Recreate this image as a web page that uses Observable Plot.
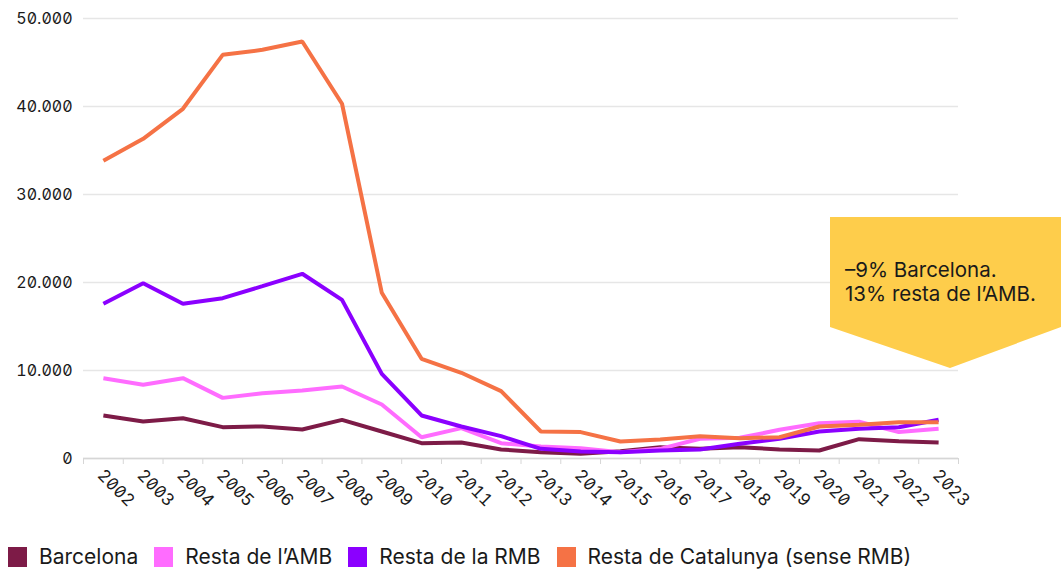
<!DOCTYPE html>
<html>
<head>
<meta charset="utf-8">
<script src="https://cdn.jsdelivr.net/npm/d3@7"></script>
<script src="https://cdn.jsdelivr.net/npm/@observablehq/plot@0.6"></script>
<style>
  html, body { margin: 0; padding: 0; background: #fff; }
  body { width: 1061px; height: 571px; position: relative; overflow: hidden;
         font-family: Inter, "Noto Sans", sans-serif; font-feature-settings: "zero" 1; }
  #chart svg { display: block; font-feature-settings: "zero" 1; }
  #legend { position: absolute; left: 8px; top: 545px; display: flex; align-items: center;
            gap: 16px; font-size: 21px; line-height: 24px; color: #1a1a1a; white-space: nowrap; }
  #legend .item { display: flex; align-items: center; gap: 12px; }
  #legend .sw { width: 19px; height: 20px; display: inline-block; }
  #callout { position: absolute; left: 0; top: 0; pointer-events: none; }
</style>
</head>
<body>
<div id="chart"></div>
<div id="legend"></div>
<svg id="callout" width="1061" height="571"></svg>
<script>
const years = [2002,2003,2004,2005,2006,2007,2008,2009,2010,2011,2012,2013,2014,2015,2016,2017,2018,2019,2020,2021,2022,2023];
const barcelona = [4890,4200,4580,3560,3640,3300,4390,3070,1740,1820,1020,720,530,830,1290,1100,1290,1020,910,2200,1970,1820];
const restaAMB  = [9130,8370,9130,6890,7420,7730,8180,6140,2420,3450,1740,1360,1170,720,1100,2240,2350,3260,4000,4170,3000,3370];
const restaRMB  = [17580,19920,17580,18220,19580,20990,18030,9620,4890,3640,2540,1100,800,720,900,1020,1670,2240,3070,3370,3560,4400];
const restaCat  = [33830,36330,39740,45870,46440,47390,40310,18830,11330,9740,7650,3070,3000,1930,2160,2540,2310,2420,3640,3830,4130,4130];
const seriesNames = ["Barcelona", "Resta de l’AMB", "Resta de la RMB", "Resta de Catalunya (sense RMB)"];
const seriesColors = ["#7d1b47", "#ff6cff", "#8b00ff", "#f57245"];
const yTicks = [0, 10000, 20000, 30000, 40000, 50000];
const calloutLines = ["–9% Barcelona.", "13% resta de l’AMB."];

const seriesValues = [barcelona, restaAMB, restaRMB, restaCat];
const data = [];
seriesNames.forEach((name, i) => {
  years.forEach((yr, j) => data.push({serie: name, year: yr, value: seriesValues[i][j]}));
});
const boundaries = years.map(y => y - 0.5).concat([years[years.length - 1] + 0.5]);

const loc = d3.formatLocale({decimal: ",", thousands: ".", grouping: [3], currency: ["", ""]});
const fmt = loc.format(",");

const plot = Plot.plot({
  width: 1061,
  height: 535,
  marginTop: 18,
  marginBottom: 77,
  marginLeft: 83,
  marginRight: 103,
  style: {fontFamily: "Inter, 'Noto Sans', sans-serif", fontSize: "16px", color: "#1a1a1a", background: "#fff"},
  x: {domain: [years[0] - 0.5, years[years.length - 1] + 0.5], label: null},
  y: {domain: [0, 50000], label: null},
  color: {domain: seriesNames, range: seriesColors},
  marks: [
    Plot.gridY(yTicks, {stroke: "#e6e6e6", strokeOpacity: 1, strokeWidth: 1.5}),
    Plot.axisY(yTicks, {tickSize: 0, tickPadding: 11, tickFormat: fmt, fontSize: 16, label: null}),
    Plot.ruleY([0], {stroke: "#d6d6d6", strokeWidth: 1.5}),
    Plot.axisX(boundaries, {tickSize: 6, tickFormat: () => "", stroke: "#d6d6d6", label: null}),
    Plot.axisX(years, {tickSize: 0, tickFormat: d => String(d), tickRotate: 45, textAnchor: "start",
                       tickPadding: 14, fontSize: 17, label: null, dx: -3}),
    Plot.line(data, {x: "year", y: "value", z: "serie", stroke: "serie", strokeWidth: 4,
                     strokeLinejoin: "miter", strokeLinecap: "butt"})
  ]
});
document.getElementById("chart").appendChild(plot);

// legend
const legend = document.getElementById("legend");
seriesNames.forEach((n, i) => {
  const it = document.createElement("div");
  it.className = "item";
  it.innerHTML = `<span class="sw" style="background:${seriesColors[i]}"></span><span>${n}</span>`;
  legend.appendChild(it);
});

// callout annotation
const svg = d3.select("#callout");
svg.append("polygon")
  .attr("points", "830,217 1061,217 1061,327 950,368 830,327")
  .attr("fill", "#fecd4b");
const t = svg.append("text")
  .attr("font-family", "Inter, 'Noto Sans', sans-serif")
  .attr("font-size", 20.5)
  .attr("fill", "#1a1a1a");
calloutLines.forEach((line, i) => {
  t.append("tspan").attr("x", 845).attr("y", 277 + i * 24).text(line);
});
</script>
</body>
</html>
